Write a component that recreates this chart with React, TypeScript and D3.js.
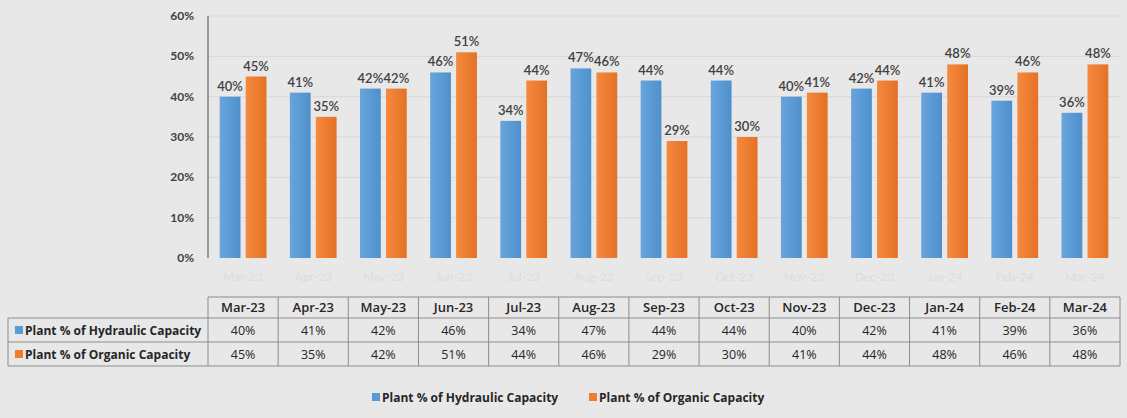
import React from "react";
import * as d3 from "d3";

const months = ["Mar-23","Apr-23","May-23","Jun-23","Jul-23","Aug-23","Sep-23","Oct-23","Nov-23","Dec-23","Jan-24","Feb-24","Mar-24"];
const hydraulic = [40,41,42,46,34,47,44,44,40,42,41,39,36];
const organic = [45,35,42,51,44,46,29,30,41,44,48,46,48];
const yTicks = [0,10,20,30,40,50,60];
const seriesNames = ["Plant % of Hydraulic Capacity","Plant % of Organic Capacity"];
const colors = ["#5b9bd5","#ed7d31"];

const W = 1127, H = 418;
const left = 208, right = 1120, top = 16, bottom = 258;
const font = "Lato, 'Open Sans', sans-serif";
const font2 = "'Open Sans', Lato, sans-serif";

export default function App() {
  const x = d3.scaleBand<string>().domain(months).range([left, right]).padding(0);
  const inner = d3.scaleBand<string>().domain(["h","o"]).range([0, x.bandwidth()]).paddingInner(0.2).paddingOuter(0.45);
  const y = d3.scaleLinear().domain([0,60]).range([bottom, top]);
  const series = [hydraulic, organic];
  const keys = ["h","o"];
  const rowTop = [297, 318, 342, 366];
  return (
    <svg width={W} height={H} style={{position:"absolute",left:0,top:0,background:"#e8e8e8",fontFamily:font}}>
      <defs>
        <linearGradient id="gb" x1="0" x2="1" y1="0" y2="0">
          <stop offset="0" stopColor="#6aa4db"/><stop offset="0.5" stopColor="#5b9bd5"/><stop offset="1" stopColor="#4f8fcb"/>
        </linearGradient>
        <linearGradient id="go" x1="0" x2="1" y1="0" y2="0">
          <stop offset="0" stopColor="#f48a40"/><stop offset="0.5" stopColor="#ed7d31"/><stop offset="1" stopColor="#e37227"/>
        </linearGradient>
      </defs>
      <rect x={0} y={0} width={W} height={H} fill="#e8e8e8"/>
      {yTicks.map(t => (
        <g key={t}>
          {t > 0 && <line x1={left} x2={right} y1={y(t)} y2={y(t)} stroke="#d8d8d8" strokeWidth={1}/>}
          <text x={194} y={y(t)+4} textAnchor="end" fontSize={12} fontWeight={700} fill="#404040">{t}%</text>
        </g>
      ))}
      {months.map((m, i) => (
        <g key={m}>
          {series.map((s, k) => {
            const bx = (x(m) as number) + (inner(keys[k]) as number);
            return (
              <g key={k}>
                <rect x={bx} y={y(s[i])} width={inner.bandwidth()} height={bottom - y(s[i])} fill={k===0?"url(#gb)":"url(#go)"}/>
                <text x={bx + inner.bandwidth()/2} y={y(s[i]) - 6} textAnchor="middle" fontSize={13} fontWeight={600} fill="#404040">{s[i]}%</text>
              </g>
            );
          })}
          <text x={(x(m) as number) + x.bandwidth()/2} y={281} textAnchor="middle" fontSize={12} fill="#dcdcdc">{m}</text>
        </g>
      ))}
      <line x1={left} x2={left} y1={top} y2={bottom} stroke="#7f7f7f" strokeWidth={1.5}/>
      {/* table */}
      <g stroke="#8c8c8c" strokeWidth={1} fill="none">
        <line x1={left} x2={right} y1={rowTop[0]} y2={rowTop[0]}/>
        <line x1={8} x2={right} y1={rowTop[1]} y2={rowTop[1]}/>
        <line x1={8} x2={right} y1={rowTop[2]} y2={rowTop[2]}/>
        <line x1={8} x2={right} y1={rowTop[3]} y2={rowTop[3]}/>
        <line x1={8} x2={8} y1={rowTop[1]} y2={rowTop[3]}/>
        {months.map(m => <line key={m} x1={x(m)} x2={x(m)} y1={rowTop[0]} y2={rowTop[3]}/>)}
        <line x1={right} x2={right} y1={rowTop[0]} y2={rowTop[3]}/>
      </g>
      {months.map((m, i) => {
        const cx = (x(m) as number) + x.bandwidth()/2;
        return (
          <g key={m} fontFamily={font2}>
            <text x={cx} y={312} textAnchor="middle" fontSize={13} fontWeight={600} fill="#262626">{m}</text>
            <text x={cx} y={335} textAnchor="middle" fontSize={12.5} fill="#262626">{hydraulic[i]}%</text>
            <text x={cx} y={359} textAnchor="middle" fontSize={12.5} fill="#262626">{organic[i]}%</text>
          </g>
        );
      })}
      {seriesNames.map((n, k) => (
        <g key={n} fontFamily={font2}>
          <rect x={15} y={rowTop[k+1]+8} width={8} height={8} fill={colors[k]}/>
          <text x={25} y={rowTop[k+1]+17} fontSize={12} fontWeight={700} fill="#262626">{n}</text>
        </g>
      ))}
      {/* legend */}
      {seriesNames.map((n, k) => {
        const lx = k === 0 ? 372 : 589;
        return (
          <g key={n} fontFamily={font2}>
            <rect x={lx} y={393} width={8} height={8} fill={colors[k]}/>
            <text x={lx + 10} y={402} fontSize={12} fontWeight={700} fill="#262626">{n}</text>
          </g>
        );
      })}
    </svg>
  );
}
